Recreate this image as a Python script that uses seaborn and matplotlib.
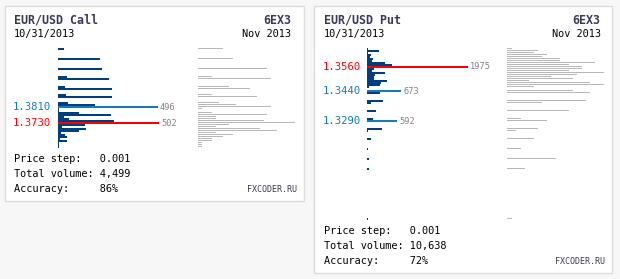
import matplotlib
matplotlib.use("Agg")
import matplotlib.pyplot as plt
import seaborn as sns
import pandas as pd
from matplotlib.patches import Rectangle

# ---------------- data ----------------
call_prices = [1.4100, 1.4050, 1.4000, 1.3960, 1.3950, 1.3910, 1.3900, 1.3870, 1.3860,
               1.3830, 1.3820, 1.3810, 1.3800, 1.3790, 1.3780, 1.3770, 1.3760, 1.3750,
               1.3740, 1.3730, 1.3720, 1.3710, 1.3700, 1.3690, 1.3680, 1.3670, 1.3660,
               1.3650, 1.3640, 1.3630, 1.3620, 1.3610]
call_volume = [30, 209, 219, 45, 254, 35, 268, 40, 268,
               50, 184, 496, 5, 5, 104, 263, 30, 55,
               278, 502, 134, 20, 139, 104, 15, 35, 45,
               10, 45, 5, 5, 5]
call_oi = [25, 35, 69, 14, 73, 31, 52, 14, 59,
           21, 38, 73, 4, 0, 14, 69, 18, 18,
           66, 97, 31, 18, 62, 79, 18, 35, 25,
           14, 14, 4, 4, 4]
call_peaks = [1.3810]
call_max = 1.3730

put_prices = [1.3650, 1.3640, 1.3630, 1.3620, 1.3610, 1.3600, 1.3590, 1.3580, 1.3570,
              1.3560, 1.3550, 1.3540, 1.3530, 1.3520, 1.3510, 1.3500, 1.3490, 1.3480,
              1.3470, 1.3460, 1.3440, 1.3430, 1.3390, 1.3380, 1.3340, 1.3300, 1.3290,
              1.3250, 1.3240, 1.3200, 1.3150, 1.3100, 1.3050, 1.2800]
put_volume = [20, 235, 20, 78, 59, 117, 98, 352, 489,
              1975, 137, 98, 352, 156, 137, 137, 391, 274,
              254, 39, 673, 254, 313, 78, 176, 117, 592,
              293, 20, 78, 20, 39, 39, 20]
put_oi = [5, 31, 27, 40, 35, 53, 53, 88, 62,
          75, 75, 62, 97, 70, 44, 66, 22, 83,
          97, 27, 66, 83, 79, 35, 62, 14, 40,
          31, 9, 27, 14, 49, 18, 5]
put_peaks = [1.3440, 1.3290]
put_max = 1.3560

call_info = ["EUR/USD Call", "6EX3", "10/31/2013", "Nov 2013",
             "Price step:   0.001", "Total volume: 4,499", "Accuracy:     86%"]
put_info = ["EUR/USD Put", "6EX3", "10/31/2013", "Nov 2013",
            "Price step:   0.001", "Total volume: 10,638", "Accuracy:     72%"]

# ---------------- style ----------------
W, H = 620, 279
NAVY = "#003f7f"
LBLUE = "#0f7dc0"
RED = "#ff0000"
GREY = "#b8b8b8"
MONO = ["DejaVu Sans Mono"]

sns.set_theme(style="white")
plt.rcParams["font.family"] = MONO

fig = plt.figure(figsize=(W / 100, H / 100), dpi=100)
fig.patch.set_facecolor("#f7f7f7")


def fx(x):
    return x / W


def fy(y):
    return 1 - y / H


def add_ax(x, y, w, h):
    ax = fig.add_axes([fx(x), fy(y + h), w / W, h / H])
    ax.patch.set_alpha(0)
    ax.set_zorder(2)
    return ax


def panel(box, prices, vols, ois, peaks, maxp, info, bar_x0, oi_x0, top_y, foot_y, label_x):
    bx0, by0, bx1, by1 = box
    fig.patches.append(Rectangle((fx(bx0), fy(by1)), (bx1 - bx0) / W, (by1 - by0) / H,
                                 transform=fig.transFigure, facecolor="white",
                                 edgecolor="#dcdcdc", linewidth=1.0, zorder=-5))
    top, bottom = max(prices), min(prices)
    n = int(round((top - bottom) / 0.001)) + 1
    levels = [f"{top - i * 0.001:.4f}" for i in range(n)]
    vmap = {f"{p:.4f}": v for p, v in zip(prices, vols)}
    omap = {f"{p:.4f}": v for p, v in zip(prices, ois)}
    peak_keys = {f"{p:.4f}" for p in peaks}
    max_key = f"{maxp:.4f}"
    kinds = []
    for k in levels:
        kinds.append("max" if k == max_key else ("peak" if k in peak_keys else "base"))
    df = pd.DataFrame({"level": levels,
                       "vol": [vmap.get(k, 0) for k in levels],
                       "oi": [omap.get(k, 0) for k in levels],
                       "kind": kinds})
    vmax = max(vols)
    bar_w = 101

    ax = add_ax(bar_x0, top_y, bar_w, 2 * n)
    sns.barplot(data=df, x="vol", y="level", hue="kind", order=levels,
                hue_order=["base", "peak", "max"],
                palette={"base": NAVY, "peak": LBLUE, "max": RED},
                orient="h", width=1.0, dodge=False, legend=False, saturation=1,
                errorbar=None, linewidth=0, ax=ax)
    ax.set_xlim(0, vmax)
    ax.set_ylim(n - 0.5, -0.5)
    ax.axis("off")

    ax2 = add_ax(oi_x0, top_y - 0.5, 97, 2 * n)
    sns.barplot(data=df, x="oi", y="level", order=levels, color=GREY,
                orient="h", width=0.6, saturation=1, errorbar=None,
                linewidth=0, ax=ax2)
    ax2.set_xlim(0, 97)
    ax2.set_ylim(n - 0.5, -0.5)
    ax2.axis("off")
    for a in (ax, ax2):
        for p in a.patches:
            p.set_antialiased(False)

    # price labels and value labels
    for i, k in enumerate(levels):
        if kinds[i] == "base":
            continue
        col = RED if kinds[i] == "max" else LBLUE
        yc = top_y + 2 * i + 1
        fig.text(fx(label_x), fy(yc), k, color=col, fontsize=7.6,
                 va="center", ha="left")
        v = df["vol"][i]
        fig.text(fx(bar_x0 + v / vmax * bar_w + 2), fy(yc), f"{v}", color="#808080",
                 fontsize=6.2, va="center", ha="left")

    # header
    tx = bx0 + 9
    rx = bx1 - 12
    fig.text(fx(tx), fy(20), info[0], color="#3a3a58", fontsize=8.4,
             fontweight="bold", va="center", ha="left")
    fig.text(fx(rx), fy(20), info[1], color="#3a3a58", fontsize=8.4,
             fontweight="bold", va="center", ha="right")
    fig.text(fx(tx), fy(34), info[2], color="black", fontsize=7.4,
             va="center", ha="left")
    fig.text(fx(rx), fy(34), info[3], color="black", fontsize=7.4,
             va="center", ha="right")
    # footer
    for j, line in enumerate(info[4:]):
        fig.text(fx(tx), fy(foot_y + 15 * j), line, color="black", fontsize=7.4,
                 va="center", ha="left")
    fig.text(fx(bx1 - 7), fy(foot_y + 31), "FXCODER.RU", color="#3a3a50",
             fontsize=6.0, va="center", ha="right")


panel((4.5, 5.5, 303.5, 200.5), call_prices, call_volume, call_oi, call_peaks, call_max,
      call_info, bar_x0=58, oi_x0=198, top_y=48, foot_y=159, label_x=13)
panel((314.5, 5.5, 612.5, 272.5), put_prices, put_volume, put_oi, put_peaks, put_max,
      put_info, bar_x0=367, oi_x0=507, top_y=48, foot_y=231, label_x=323)

fig.savefig("out.png", dpi=100, facecolor=fig.get_facecolor())
